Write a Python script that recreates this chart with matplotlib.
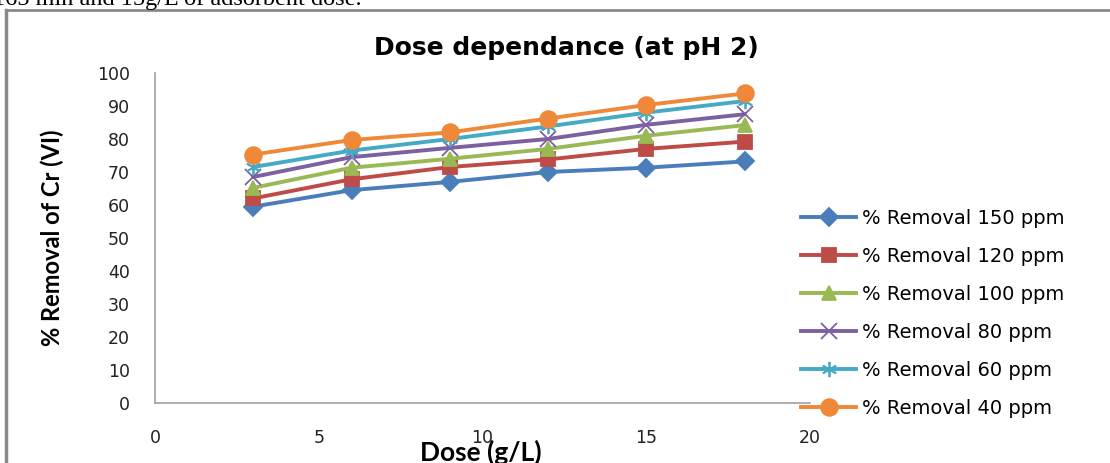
import matplotlib
matplotlib.use("Agg")
import matplotlib.pyplot as plt
from matplotlib.lines import Line2D

# dose (g/L) and % removal for each initial Cr(VI) concentration
dose = [3, 6, 9, 12, 15, 18]
removal_150 = [59.5, 64.5, 67.0, 70.0, 71.3, 73.2]
removal_120 = [62.0, 67.8, 71.5, 73.8, 77.0, 79.2]
removal_100 = [65.2, 71.3, 74.0, 77.0, 81.0, 84.2]
removal_80 = [68.5, 74.5, 77.3, 80.0, 84.3, 87.5]
removal_60 = [71.5, 76.5, 80.0, 83.8, 88.0, 91.5]
removal_40 = [75.3, 79.7, 82.0, 86.2, 90.3, 93.8]

labels = ["% Removal 150 ppm", "% Removal 120 ppm", "% Removal 100 ppm",
          "% Removal 80 ppm", "% Removal 60 ppm", "% Removal 40 ppm"]
series = [removal_150, removal_120, removal_100, removal_80, removal_60, removal_40]
colors = ["#4A7EBB", "#BE4B48", "#98B954", "#7D60A0", "#46AAC5", "#F0883A"]
markers = ["D", "s", "^", "x", (6, 2, 0), "o"]
msizes = [9, 10, 10, 11, 11, 12]

fig = plt.figure(figsize=(11.1, 4.63), dpi=100)
ax = fig.add_axes([155 / 1110, 1 - 403 / 463, 655 / 1110, 330 / 463])

for vals, lab, c, m, ms in zip(series, labels, colors, markers, msizes):
    ax.plot(dose, vals, color=c, lw=2.8, marker=m, ms=ms, mew=1.3,
            mfc=c, mec=c, label=lab)

ax.set_xlim(0, 20)
ax.set_ylim(0, 100)
ax.set_xticks(range(0, 21, 5))
ax.set_yticks(range(0, 101, 10))
for side in ["top", "right"]:
    ax.spines[side].set_visible(False)
for side in ["left", "bottom"]:
    ax.spines[side].set_color("#A0A0A0")
    ax.spines[side].set_linewidth(1.2)
ax.tick_params(length=0, labelsize=12.5, colors="#222222")
ax.tick_params(axis="x", pad=19)
ax.tick_params(axis="y", pad=18)

ax.set_title("Dose dependance (at pH 2)", fontsize=18, fontweight="bold",
             x=0.628, y=1.03)
fig.text(481 / 1110, 1 - 452 / 463, "Dose (g/L)", ha="center", va="center",
         fontsize=19, fontweight="bold", family="Lato")
fig.text(52 / 1110, 1 - 238 / 463, "% Removal of Cr (VI)", ha="center",
         va="center", rotation=90, fontsize=17, fontweight="bold", family="Lato")

fig.legend(loc="upper left", bbox_to_anchor=(801 / 1110, 1 - 209 / 463),
           frameon=False, prop={"size": 14},
           handlelength=2.85, handletextpad=0.3, labelspacing=0.98,
           borderaxespad=0, borderpad=0)

# document frame and clipped caption line above the chart
fig.add_artist(Line2D([8 / 1110, 1], [1 - 10 / 463] * 2, color="#8A8A8A", lw=2))
fig.add_artist(Line2D([6 / 1110] * 2, [0, 1 - 10 / 463], color="#8A8A8A", lw=2.5))
fig.text(-7 / 1110, 1 - 5 / 463, "165 min and 15g/L of adsorbent dose.",
         fontsize=17.5, family="Liberation Serif", va="baseline")

fig.savefig("out.png", dpi=100, facecolor="white")
